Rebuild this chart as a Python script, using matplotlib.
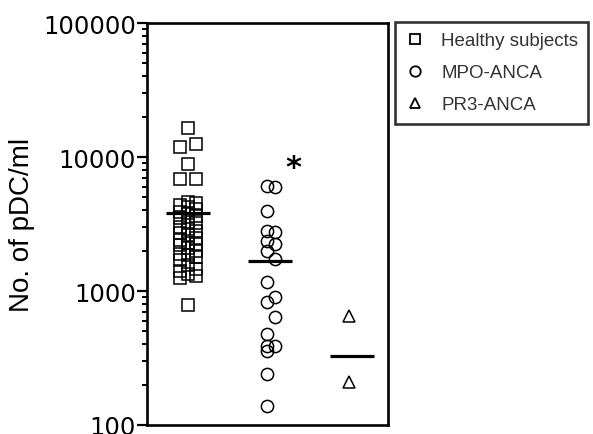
import numpy as np
import matplotlib
matplotlib.use("Agg")
import matplotlib.pyplot as plt
from matplotlib.ticker import LogLocator, FixedLocator, NullFormatter
from matplotlib.lines import Line2D

groups = ["Healthy subjects", "MPO-ANCA", "PR3-ANCA"]

healthy = [16400, 12500, 11900, 8900, 6900, 6800,
           4600, 4500, 4400, 4200, 4100, 3900, 3800, 3600, 3500, 3300, 3200,
           3000, 2900, 2800, 2700, 2600, 2500, 2400, 2300, 2250, 2200, 2100,
           2000, 1900, 1850, 1800, 1700, 1550, 1450, 1400, 1350, 1300, 1250,
           790]
mpo = [6080, 5970, 3950, 2800, 2760, 2360, 2240, 1990, 1730, 1170,
       900, 830, 640, 480, 390, 390, 357, 240, 139]
mpo_side = [-1, 1, -1, -1, 1, -1, 1, -1, 1, -1,
            1, -1, 1, -1, -1, 1, -1, -1, -1]
pr3 = [650, 209]
means = [3820, 1670, 327]

fig = plt.figure(figsize=(5.93, 4.35), dpi=100)
ax = fig.add_axes([0.2479, 0.0207, 0.4064, 0.9241])

ms = 8.8
mew = 1.1
# healthy: three narrow columns
hx = [1 + 0.1 * [0, 1, -1][i % 3] for i in range(len(healthy))]
ax.plot(hx, healthy, ls="none", marker="s", ms=ms, mfc="none", mec="black", mew=mew)
mx = [2.01 + 0.05 * s for s in mpo_side]
ax.plot(mx, mpo, ls="none", marker="o", ms=ms, mfc="none", mec="black", mew=mew)
ax.plot([2.97] * len(pr3), pr3, ls="none", marker="^", ms=ms, mfc="none", mec="black", mew=mew)

for i, m in enumerate(means):
    ax.plot([i + 1 - 0.27, i + 1 + 0.27], [m, m], color="black", lw=2.3, solid_capstyle="butt")

ax.text(2.28, 8300, "*", fontsize=22, fontweight="bold", ha="center", va="center")

ax.set_yscale("log")
ax.set_ylim(100, 100000)
ax.set_xlim(0.5, 3.44)
ax.set_xticks([])
ax.yaxis.set_major_locator(FixedLocator([100, 1000, 10000, 100000]))
ax.set_yticklabels(["100", "1000", "10000", "100000"])
ax.yaxis.set_minor_locator(LogLocator(base=10, subs=np.arange(2, 10)))
ax.yaxis.set_minor_formatter(NullFormatter())
ax.tick_params(axis="y", which="major", length=7, width=1.6, labelsize=17.5, pad=1)
ax.tick_params(axis="y", which="minor", length=3.5, width=1.4)
for s in ax.spines.values():
    s.set_linewidth(1.9)

ax.set_ylabel("No. of pDC/ml", fontsize=20, family="Liberation Sans", labelpad=6)

handles = [Line2D([], [], ls="none", marker=mk, ms=7.5, mfc="none", mec="black", mew=1.3)
           for mk in ["s", "o", "^"]]
leg = ax.legend(handles, groups, loc="upper left", bbox_to_anchor=(1.03, 1.003),
                frameon=True, fancybox=False, edgecolor="black", borderaxespad=0,
                prop={"family": "Liberation Sans", "size": 13.5}, handletextpad=0.9,
                handlelength=1.0, labelspacing=0.8, borderpad=0.55, labelcolor="#333333")
leg.get_frame().set_linewidth(1.9)

fig.savefig("out.png", dpi=100)
